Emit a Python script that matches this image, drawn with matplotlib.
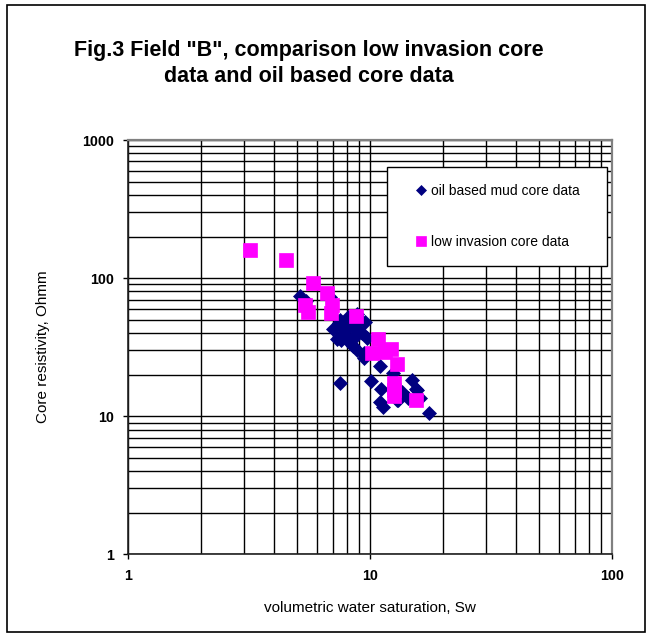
import matplotlib
matplotlib.use('Agg')
import matplotlib.pyplot as plt
from matplotlib.patches import Rectangle
from matplotlib.ticker import LogLocator, NullFormatter

plt.rcParams['font.family'] = ['Liberation Sans', 'DejaVu Sans']

# oil based mud core data (Sw, resistivity)
obm_sw = [5.1, 5.4, 6.8, 7.0, 7.4, 7.5, 7.25, 7.6, 7.75, 8.0, 8.25, 8.5, 8.8, 8.9,
          8.8, 9.1, 9.2, 9.5, 9.7, 9.4, 9.4, 7.8, 8.3, 8.6, 11.0, 7.5, 10.1, 11.1,
          11.0, 11.3, 12.4, 12.9, 13.5, 14.3, 14.8, 15.5, 15.6, 16.0, 17.4, 13.0,
          8.1, 8.5]
obm_rt = [74, 68, 73, 43, 47, 50, 36, 35.5, 38, 44.5, 34, 32, 30, 42,
          55, 50, 40, 48, 37, 28.5, 26.5, 41, 46, 38, 23, 17.5, 18, 15.8,
          12.7, 11.7, 20.5, 13.1, 15, 13.5, 18.3, 15.8, 15.5, 13.5, 10.5, 13.1,
          52, 36]

# low invasion core data
li_sw = [3.17, 4.48, 5.78, 5.39, 5.54, 6.6, 6.95, 6.85, 8.7, 10.8, 10.2, 11.5,
         12.2, 12.9, 12.5, 12.5, 12.5, 15.4]
li_rt = [160, 135, 92, 64, 57, 78, 64, 56, 53, 36, 28.5, 29,
         30.5, 24, 17.5, 15.5, 14, 13]

xticks = [1, 10, 100]
yticks = [1, 10, 100, 1000]

fig = plt.figure(figsize=(6.51, 6.37), dpi=100)
ax = fig.add_axes([0.1971, 0.1298, 0.7435, 0.6504])

ax.set_xscale('log')
ax.set_yscale('log')
ax.set_xlim(1, 100)
ax.set_ylim(1, 1000)

ax.plot(obm_sw, obm_rt, linestyle='none', marker='D', ms=7.6, color='#000080',
        mec='#000080', mew=0.5, label='oil based mud core data', zorder=3)
ax.plot(li_sw, li_rt, linestyle='none', marker='s', ms=10.6, color='#ff00ff',
        mec='#ff00ff', mew=0.5, label='low invasion core data', zorder=4)

ax.set_xticks(xticks)
ax.set_xticklabels([str(t) for t in xticks])
ax.set_yticks(yticks)
ax.set_yticklabels([str(t) for t in yticks])
ax.xaxis.set_minor_locator(LogLocator(base=10, subs=range(2, 10)))
ax.yaxis.set_minor_locator(LogLocator(base=10, subs=range(2, 10)))
ax.xaxis.set_minor_formatter(NullFormatter())
ax.yaxis.set_minor_formatter(NullFormatter())

ax.grid(True, which='both', color='black', linewidth=1.0, zorder=1)
ax.set_axisbelow(True)
ax.tick_params(which='major', direction='out', length=3.6, width=1, color='black', pad=7,
               labelsize=10.3)
ax.tick_params(which='minor', length=0)
for lab in ax.get_xticklabels() + ax.get_yticklabels():
    lab.set_fontweight('bold')

for s in ['left', 'bottom']:
    ax.spines[s].set_color('#202020')
    ax.spines[s].set_linewidth(1.2)
for s in ['top', 'right']:
    ax.spines[s].set_color('#808080')
    ax.spines[s].set_linewidth(1.6)

ax.set_xlabel('volumetric water saturation, Sw', fontsize=11)
ax.set_ylabel('Core resistivity, Ohmm', fontsize=11)
ax.xaxis.set_label_coords(0.5, -0.1296)
ax.yaxis.set_label_coords(-0.1756, 0.5)
ax.xaxis.label.set_verticalalignment('center')
ax.yaxis.label.set_verticalalignment('center')

leg = ax.legend(loc='upper left', bbox_to_anchor=(0.5345, 0.684, 0.4545, 0.251),
                mode='expand', borderaxespad=0, fontsize=10, frameon=True,
                fancybox=False, framealpha=1, edgecolor='black', borderpad=1.22,
                labelspacing=2.66, handlelength=2.45, handletextpad=-0.5,
                markerscale=0.67, numpoints=1)
leg.get_frame().set_linewidth(1.0)

fig.text(0.4747, 0.9003, 'Fig.3 Field "B", comparison low invasion core\ndata and oil based core data',
         ha='center', va='center', multialignment='center', fontsize=15.5,
         fontweight='bold', linespacing=1.36)

fig.patches.append(Rectangle((7 / 651, 5 / 637), 638 / 651, 627 / 637, transform=fig.transFigure,
                             fill=False, edgecolor='black', linewidth=1.2))

fig.savefig('out.png', dpi=100)
